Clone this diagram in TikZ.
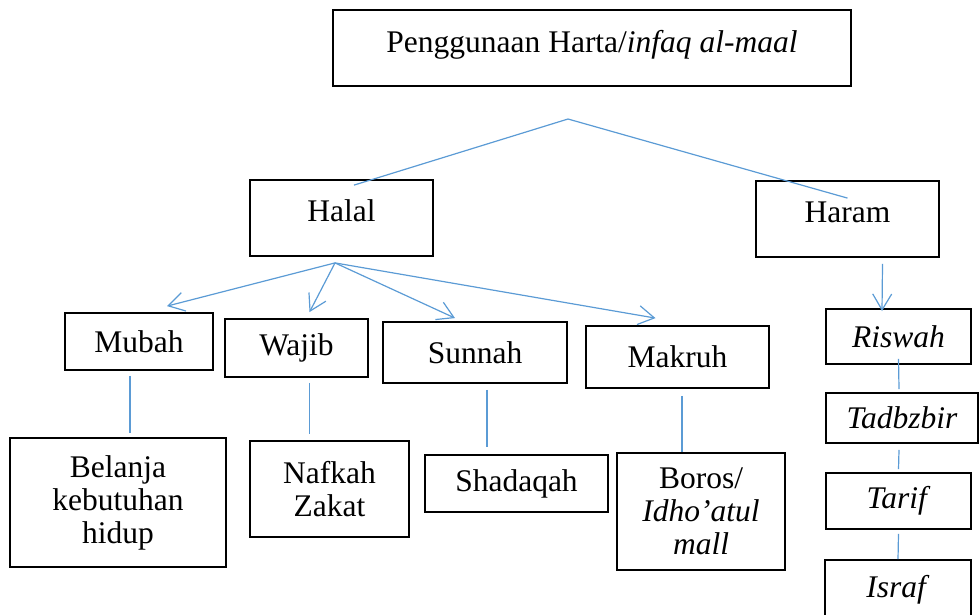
\documentclass[tikz,border=0pt]{standalone}
\usepackage{fontspec}
\setmainfont{Liberation Serif}
\usepackage{tikz}
\usetikzlibrary{arrows.meta, calc}
\usepackage{xcolor}
\definecolor{lineblue}{HTML}{5B9BD5}

\begin{document}
\begin{tikzpicture}[
  x=1pt, y=-1pt,
  font=\fontsize{31.5pt}{33pt}\selectfont,
  box/.style={draw=black, line width=1.8pt, inner sep=0pt, align=center},
  headbox/.style={box, text height=22pt, text depth=16pt},
  link/.style={draw=lineblue, line width=1.2pt},
  branch/.style={link, -{Straight Barb[length=16pt, width=19pt]}}
]
\useasboundingbox (0,0) rectangle (979,614);

% Judul
\node[box, text height=22pt, text depth=14pt, minimum width=518pt, minimum height=76pt] (harta) at (592,48) {Penggunaan Harta/\textit{infaq al-maal}};

% Tingkat 1
\node[headbox, minimum width=183pt, minimum height=76pt] (halal) at (341.5,218) {Halal};
\node[headbox, minimum width=183pt, minimum height=76pt] (haram) at (847.5,219) {Haram};

% Tingkat 2 (hukum halal)
\node[box, minimum width=148pt, minimum height=57pt] (mubah)  at (139,341.5) {Mubah};
\node[box, minimum width=143pt, minimum height=58pt] (wajib)  at (296.5,348) {Wajib};
\node[box, minimum width=184pt, minimum height=61pt] (sunnah) at (475,352.5) {Sunnah};
\node[box, minimum width=183pt, minimum height=62pt] (makruh) at (677.5,357) {Makruh};

% Tingkat 3 (contoh)
\node[box, minimum width=216pt, minimum height=129pt] (belanja)  at (118,502.5) {Belanja\\kebutuhan\\hidup};
\node[box, minimum width=159pt, minimum height=96pt]  (nafkah)   at (329.5,489) {Nafkah\\Zakat};
\node[box, minimum width=183pt, minimum height=57pt]  (shadaqah) at (516.5,483.5) {Shadaqah};
\node[box, minimum width=168pt, minimum height=117pt] (boros)    at (701,511.5) {Boros/\\\textit{Idho’atul}\\\textit{mall}};

% Kolom haram
\node[box, minimum width=145pt, minimum height=55pt] (riswah)   at (898.5,336.5) {\textit{Riswah}};
\node[box, minimum width=152pt, minimum height=50pt] (tadbzbir) at (902,418) {\textit{Tadbzbir}};
\node[box, minimum width=145pt, minimum height=56pt] (tarif)    at (898.5,501) {\textit{Tarif}};
\node[box, minimum width=146pt, minimum height=60pt] (israf)    at (898,590) {\textit{Israf}};

% Percabangan atas
\coordinate (split) at (568,119);
\coordinate (fan) at ($(halal.south)+(-6.5,6)$);
\draw[link] ($(halal.north)+(12.5,6)$) -- (split) -- ($(haram.north)+(0,18)$);

% Panah dari halal
\draw[branch] (fan) -- ($(mubah.north)+(28,-6)$);
\draw[branch] (fan) -- ($(wajib.north)+(13,-6)$);
\draw[branch] (fan) -- ($(sunnah.north)+(-20,-3)$);
\draw[branch] (fan) -- ($(makruh.north)+(-22,-7)$);
\draw[branch] ($(haram.south)+(35,6)$) -- ($(riswah.north)+(-16.5,3)$);

% Garis ke contoh
\draw[link] ($(mubah.south)+(-9,5)$) -- ($(belanja.north)+(12,-4)$);
\draw[link] ($(wajib.south)+(13,5)$) -- ($(nafkah.north)+(-20,-6)$);
\draw[link] ($(sunnah.south)+(12,6)$) -- ($(shadaqah.north)+(-29.5,-7)$);
\draw[link] ($(makruh.south)+(4.5,7)$) -- ($(boros.north)+(-19,0)$);
\draw[link] ($(riswah.south)+(0,-6)$) -- ($(tadbzbir.north)+(-3,-3)$);
\draw[link] ($(tadbzbir.south)+(-3,6)$) -- ($(tarif.north)+(0,-3)$);
\draw[link] ($(tarif.south)+(0,4)$) -- (israf.north);
\end{tikzpicture}
\end{document}
